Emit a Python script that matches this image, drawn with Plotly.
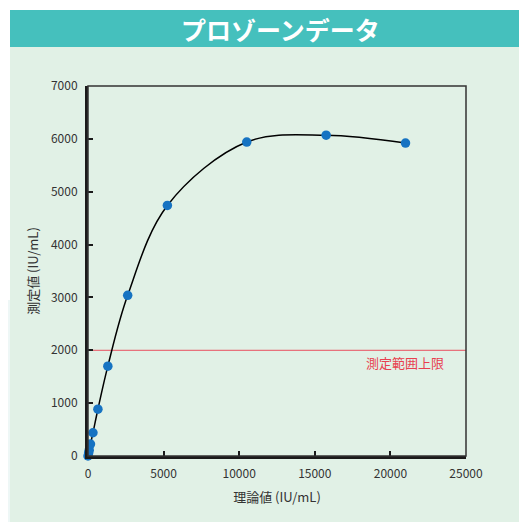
import plotly.graph_objects as go

# Data
theory_x = [0, 41, 82, 164, 328, 656, 1312, 2625, 5250, 10500, 15750, 21000]
measured_y = [0, 55, 110, 225, 440, 885, 1700, 3040, 4740, 5940, 6070, 5920]
upper_limit = 2000
upper_label = "測定範囲上限"
title_text = "プロゾーンデータ"
x_title = "理論値 (IU/mL)"
y_title = "測定値 (IU/mL)"
x_ticks = [0, 5000, 10000, 15000, 20000, 25000]
y_ticks = [0, 1000, 2000, 3000, 4000, 5000, 6000, 7000]

OFF = 8  # page offset of the figure inside the window
WW, WH = 527, 522
W, H = WW - OFF, WH - OFF
L, T = 88 - OFF, 86 - OFF
R, B = W - (466 - OFF), H - (456 - OFF)
pw, ph = W - L - R, H - T - B

def px(xw):
    return (xw - OFF - L) / pw

def py(yw):
    return (H - B - (yw - OFF)) / ph

FONT = "Noto Sans CJK JP"

fig = go.Figure()

fig.add_trace(go.Scatter(
    x=[x_ticks[0], x_ticks[-1]], y=[upper_limit, upper_limit],
    mode="lines", line=dict(color="#e8505f", width=1), hoverinfo="skip",
    showlegend=False))

fig.add_trace(go.Scatter(
    x=theory_x, y=measured_y, mode="lines+markers",
    line=dict(color="black", width=1.5, shape="spline", smoothing=1.0),
    marker=dict(color="#1673c2", size=9.5),
    cliponaxis=False,
    showlegend=False))

shapes = [
    dict(type="rect", xref="paper", yref="paper", x0=px(0), x1=px(WW), y0=py(WH), y1=py(0),
         fillcolor="white", line=dict(width=0), layer="below"),
    dict(type="rect", xref="paper", yref="paper", x0=px(0), x1=px(10), y0=py(WH), y1=py(300),
         fillcolor="#eef7f6", line=dict(width=0), layer="below"),
    dict(type="rect", xref="paper", yref="paper", x0=px(10), x1=px(WW), y0=py(WH), y1=py(47),
         fillcolor="#e1f1e6", line=dict(width=0), layer="below"),
    dict(type="rect", xref="paper", yref="paper", x0=px(10), x1=px(WW), y0=py(47), y1=py(10),
         fillcolor="#45c0bd", line=dict(width=0), layer="below"),
    dict(type="rect", xref="paper", yref="paper", x0=0, x1=1, y0=0, y1=1,
         line=dict(color="#333333", width=1.5), layer="above"),
]

annotations = [
    dict(text=title_text, xref="paper", yref="paper", x=px(280), y=py(29),
         showarrow=False, font=dict(family=FONT, size=25, color="white", weight=600),
         xanchor="center", yanchor="middle"),
    dict(text=upper_label, x=23700, y=upper_limit, xref="x", yref="y",
         showarrow=False, xanchor="right", yanchor="top", yshift=-1,
         font=dict(family=FONT, size=13, color="#e8404f")),
]

fig.update_layout(
    width=W, height=H,
    margin=dict(l=L, r=R, t=T, b=B, pad=0),
    paper_bgcolor="white", plot_bgcolor="white",
    shapes=shapes, annotations=annotations,
    font=dict(family=FONT, size=12, color="#333333"),
)

fig.update_xaxes(
    range=[0, 25000], tickvals=x_ticks, ticktext=[str(v) for v in x_ticks],
    showgrid=False, zeroline=False, showline=True, linewidth=3, linecolor="#1a1a1a",
    ticks="inside", ticklen=5, tickwidth=2, tickcolor="#1a1a1a",
    ticklabelstandoff=5,
    tickfont=dict(family=FONT, size=12, color="#333333"),
    title=dict(text=x_title, standoff=13, font=dict(family=FONT, size=13, color="#333333")),
)
fig.update_yaxes(
    range=[0, 7000], tickvals=y_ticks, ticktext=[str(v) for v in y_ticks],
    showgrid=False, zeroline=False, showline=True, linewidth=3, linecolor="#1a1a1a",
    ticks="inside", ticklen=5, tickwidth=2, tickcolor="#1a1a1a",
    ticklabelstandoff=5,
    tickfont=dict(family=FONT, size=12, color="#333333"),
    title=dict(text=y_title, standoff=10, font=dict(family=FONT, size=13, color="#333333")),
)

fig.write_html("out.html")
